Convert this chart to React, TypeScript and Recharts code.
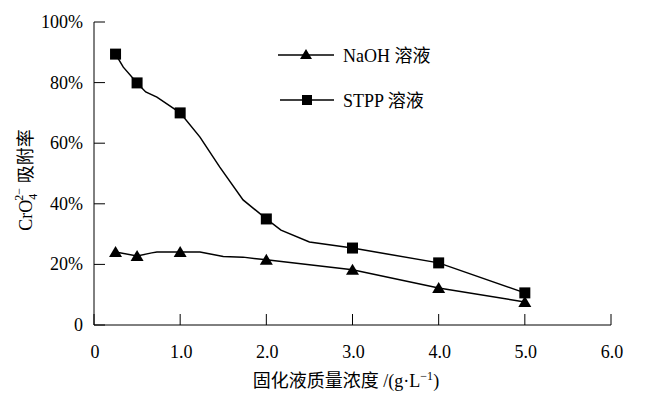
import { ComposedChart, Line, Scatter, XAxis, YAxis } from "recharts"

// measured points (markers)
const conc = [0.25, 0.5, 1.0, 2.0, 3.0, 4.0, 5.0]
const naohRate = [24.1, 22.8, 24.1, 21.5, 18.2, 12.2, 7.6]
const stppRate = [89.4, 79.9, 70.0, 35.0, 25.4, 20.5, 10.6]

// smoothed curve points as drawn in the figure
const naohCurveX = [0.25, 0.5, 0.67, 0.73, 1.0, 1.23, 1.5, 1.73, 2.0, 3.0, 4.0, 5.0]
const naohCurveY = [24.1, 22.8, 23.8, 24.1, 24.1, 24.1, 22.6, 22.4, 21.5, 18.2, 12.2, 7.6]
const stppCurveX = [0.25, 0.34, 0.5, 0.6, 0.73, 1.0, 1.23, 1.46, 1.73, 2.0, 2.17, 2.5, 3.0, 4.0, 5.0]
const stppCurveY = [89.4, 85.1, 79.9, 76.9, 75.2, 70.0, 62.0, 52.1, 41.3, 35.0, 31.3, 27.4, 25.4, 20.5, 10.6]

const xTicks = [0, 1, 2, 3, 4, 5, 6]
const yTicks = [0, 20, 40, 60, 80, 100]

const FONT = "'Liberation Serif', 'Times New Roman', 'Noto Sans CJK SC', serif"

const naohPts = conc.map((x, i) => ({ x, y: naohRate[i] }))
const stppPts = conc.map((x, i) => ({ x, y: stppRate[i] }))
const naohCurve = naohCurveX.map((x, i) => ({ x, y: naohCurveY[i] }))
const stppCurve = stppCurveX.map((x, i) => ({ x, y: stppCurveY[i] }))

const Triangle = (p: any) => (
    <polygon points={`${p.cx},${p.cy - 6} ${p.cx - 6.5},${p.cy + 5} ${p.cx + 6.5},${p.cy + 5}`} fill="#000" />
)
const Square = (p: any) => <rect x={p.cx - 5.5} y={p.cy - 5.5} width={11} height={11} fill="#000" />

const XTick = (p: any) => {
    const v = p.payload.value
    return (
        <g>
            <line x1={p.x} x2={p.x} y1={p.y} y2={p.y - 11} stroke="#000" />
            <text x={p.x + 1} y={p.y + 33} textAnchor="middle" fontSize={18} fontFamily={FONT} fill="#000">
                {v === 0 ? "0" : v.toFixed(1)}
            </text>
        </g>
    )
}

const YTick = (p: any) => {
    const v = p.payload.value
    return (
        <g>
            <line x1={p.x} x2={p.x + 11} y1={p.y} y2={p.y} stroke="#000" />
            <text x={p.x - 11} y={p.y + 6} textAnchor="end" fontSize={18} fontFamily={FONT} fill="#000">
                {v === 0 ? "0" : `${v}%`}
            </text>
        </g>
    )
}

export default function App() {
    return (
        <div style={{ position: "absolute", left: 0, top: 0, background: "#fff" }}>
            <ComposedChart width={649} height={397} margin={{ top: 22, right: 38, bottom: 0, left: 0 }}>
                <XAxis
                    type="number"
                    dataKey="x"
                    domain={[0, 6]}
                    ticks={xTicks}
                    tickLine={false}
                    tickSize={0}
                    tickMargin={0}
                    stroke="#000"
                    height={72}
                    tick={<XTick />}
                    interval={0}
                />
                <YAxis
                    type="number"
                    dataKey="y"
                    domain={[0, 100]}
                    ticks={yTicks}
                    tickLine={false}
                    tickSize={0}
                    tickMargin={0}
                    stroke="#000"
                    width={94}
                    tick={<YTick />}
                    interval={0}
                />
                <Line data={naohCurve} dataKey="y" type="linear" stroke="#000" strokeWidth={1.5} dot={false} isAnimationActive={false} />
                <Line data={stppCurve} dataKey="y" type="linear" stroke="#000" strokeWidth={1.5} dot={false} isAnimationActive={false} />
                <Scatter data={naohPts} dataKey="y" shape={<Triangle />} isAnimationActive={false} />
                <Scatter data={stppPts} dataKey="y" shape={<Square />} isAnimationActive={false} />
                {/* legend */}
                <g>
                    <line x1={278} x2={334} y1={55} y2={55} stroke="#000" strokeWidth={1.5} />
                    <polygon points="306,49 300,59 312,59" fill="#000" />
                    <text x={343} y={62} fontSize={18} fontFamily={FONT} fill="#000">NaOH 溶液</text>
                    <line x1={280} x2={334} y1={100} y2={100} stroke="#000" strokeWidth={1.5} />
                    <rect x={302} y={95} width={10} height={10} fill="#000" />
                    <text x={343} y={107} fontSize={18} fontFamily={FONT} fill="#000">STPP 溶液</text>
                </g>
                <text x={32} y={180} transform="rotate(-90 32 180)" textAnchor="middle" fontSize={18} fontFamily={FONT} fill="#000">
                    CrO
                    <tspan dy={5} fontSize={12}>4</tspan>
                    <tspan dx={-7} dy={-14} fontSize={12}>2−</tspan>
                    <tspan dy={9}> 吸附率</tspan>
                </text>
                <text x={346} y={387} textAnchor="middle" fontSize={18} fontFamily={FONT} fill="#000">
                    固化液质量浓度 /(g·L
                    <tspan dy={-7} fontSize={12}>−1</tspan>
                    <tspan dy={7}>)</tspan>
                </text>
            </ComposedChart>
        </div>
    )
}
